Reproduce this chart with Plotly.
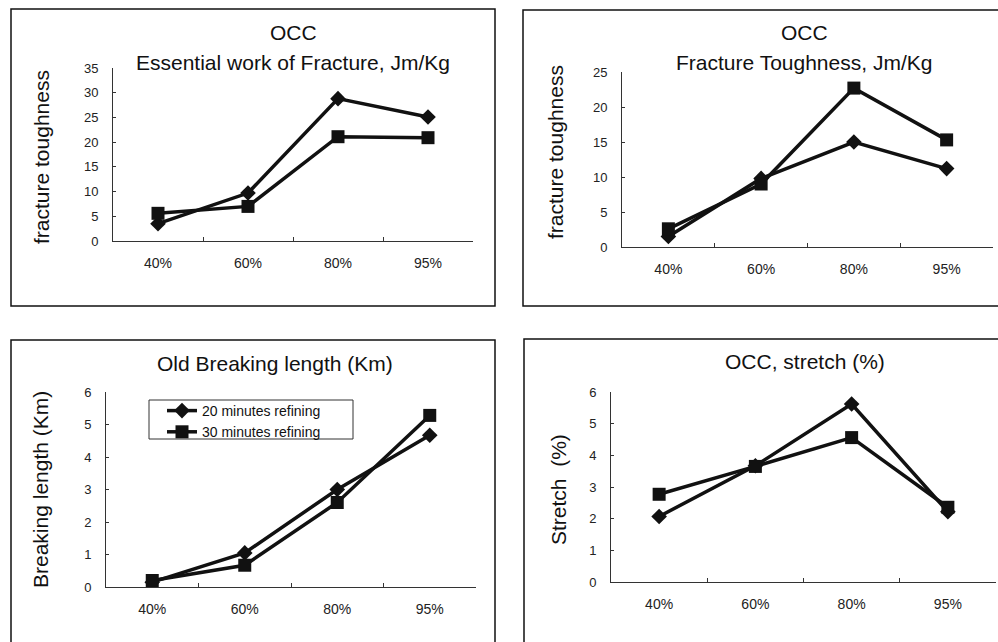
import plotly.graph_objects as go

W, H = 998, 642

categories = ["40%", "60%", "80%", "95%"]

# Panel 1: Essential work of Fracture
ewf_20 = [3.5, 9.7, 28.8, 25.1]
ewf_30 = [5.6, 7.0, 21.1, 20.9]
# Panel 2: Fracture Toughness
ft_20 = [1.5, 9.8, 15.0, 11.2]
ft_30 = [2.6, 9.0, 22.7, 15.3]
# Panel 3: Breaking length
bl_20 = [0.15, 1.05, 3.0, 4.67]
bl_30 = [0.2, 0.67, 2.6, 5.28]
# Panel 4: Stretch
st_20 = [2.07, 3.67, 5.62, 2.22]
st_30 = [2.77, 3.65, 4.56, 2.36]

series_names = ["20 minutes refining", "30 minutes refining"]

FONT = "Liberation Sans, Arial, sans-serif"
INK = "#111111"


def px_x(p):
    return p / W


def px_y(p):
    return 1 - p / H


panels = [
    dict(x=(113, 473), y=(68, 241), ymax=35, dtick=5, data=(ewf_20, ewf_30)),
    dict(x=(622, 993), y=(72, 247), ymax=25, dtick=5, data=(ft_20, ft_30)),
    dict(x=(106, 476), y=(392, 587), ymax=6, dtick=1, data=(bl_20, bl_30)),
    dict(x=(611, 996), y=(392, 582), ymax=6, dtick=1, data=(st_20, st_30)),
]

fig = go.Figure()

for i, p in enumerate(panels):
    n = "" if i == 0 else str(i + 1)
    xa, ya = "x" + n, "y" + n
    for k, (vals, sym, sz) in enumerate(zip(p["data"], ["diamond", "square"], [12, 13])):
        fig.add_trace(go.Scatter(
            x=categories, y=vals, xaxis=xa, yaxis=ya,
            mode="lines+markers",
            name=series_names[k],
            showlegend=(i == 2),
            line=dict(color=INK, width=3.5),
            marker=dict(symbol=sym, size=sz, color=INK),
        ))
    fig.layout["xaxis" + n] = dict(
        domain=[px_x(p["x"][0]), px_x(p["x"][1])],
        anchor=ya, type="category", categoryorder="array",
        categoryarray=categories, range=[-0.5, 3.5], automargin=False,
        showline=True, linecolor="#333", linewidth=1,
        ticks="inside", tickson="boundaries", ticklen=4, tickcolor="#333",
        showgrid=False, zeroline=False,
        tickfont=dict(family=FONT, size=14, color="#222"),
        ticklabelstandoff=9,
    )
    fig.layout["yaxis" + n] = dict(
        domain=[px_y(p["y"][1]), px_y(p["y"][0])],
        anchor=xa, range=[0, p["ymax"]], dtick=p["dtick"], automargin=False,
        showline=True, linecolor="#333", linewidth=1,
        ticks="inside", ticklen=3, tickcolor="#333",
        showgrid=False, zeroline=False,
        tickfont=dict(family=FONT, size=13, color="#222"),
        ticklabelstandoff=11,
    )

shapes = []
for (x0, x1, y0, y1) in [(11, 495, 9, 306), (523, 1010, 10, 306),
                         (11, 495, 340, 660), (524, 1010, 339, 660)]:
    shapes.append(dict(type="rect", xref="paper", yref="paper",
                       x0=px_x(x0), x1=px_x(x1), y0=px_y(y1), y1=px_y(y0),
                       line=dict(color="#111", width=1.5)))
# legend frame
shapes.append(dict(type="rect", xref="paper", yref="paper",
                   x0=px_x(149), x1=px_x(353), y0=px_y(439), y1=px_y(400),
                   line=dict(color="#333", width=1)))

titles = [
    ("OCC", 293, 33), ("Essential work of Fracture, Jm/Kg", 293, 63),
    ("OCC", 804, 32), ("Fracture Toughness, Jm/Kg", 804, 63),
    ("Old Breaking length (Km)", 275, 363),
    ("OCC, stretch (%)", 805, 362),
]
ytitles = [
    ("fracture toughness", 42, 157),
    ("fracture toughness", 555, 152),
    ("Breaking length (Km)", 40, 490),
    ("Stretch\u00a0\u00a0(%)", 558, 490),
]
ann = []
for t, x, y in titles:
    ann.append(dict(text=t, x=px_x(x), y=px_y(y), xref="paper", yref="paper",
                    showarrow=False, xanchor="center", yanchor="middle",
                    font=dict(family=FONT, size=21, color="#111")))
for t, x, y in ytitles:
    ann.append(dict(text=t, x=px_x(x), y=px_y(y), xref="paper", yref="paper",
                    showarrow=False, xanchor="center", yanchor="middle", textangle=-90,
                    font=dict(family=FONT, size=21, color="#111")))

fig.update_layout(
    template="none",
    width=W, height=H, autosize=False,
    margin=dict(l=0, r=0, t=0, b=0, pad=0, autoexpand=False),
    paper_bgcolor="white", plot_bgcolor="white",
    shapes=shapes, annotations=ann,
    legend=dict(x=px_x(162), y=px_y(395), xanchor="left", yanchor="top",
                borderwidth=0, bgcolor="rgba(0,0,0,0)",
                font=dict(family=FONT, size=14, color="#111"),
                itemwidth=30, tracegroupgap=0),
)

fig.write_html(
    "out.html",
    config={"displayModeBar": False},
    post_script="document.body.style.margin='0';document.body.style.overflow='hidden';",
)
